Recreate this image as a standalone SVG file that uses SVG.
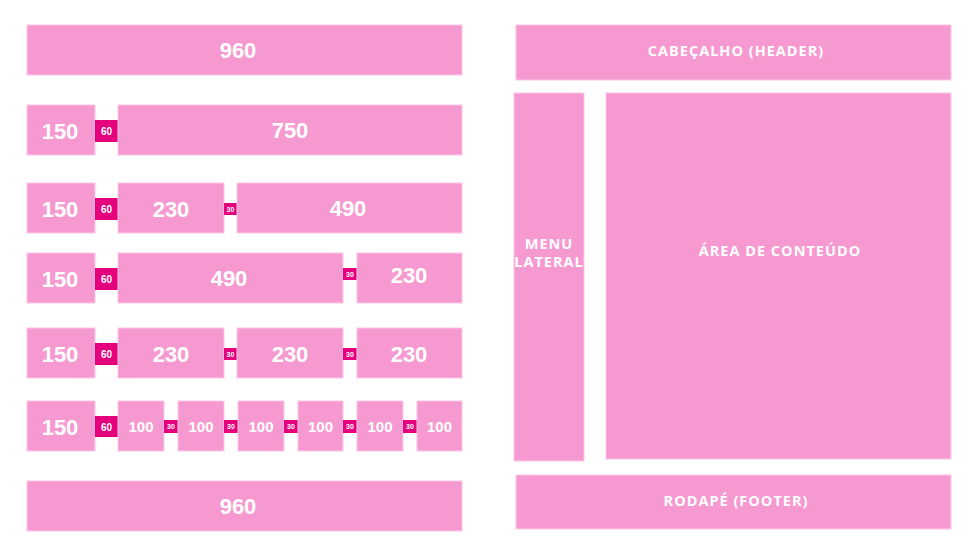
<svg xmlns="http://www.w3.org/2000/svg" width="977" height="559" viewBox="0 0 977 559">
<style>
.b{fill:#f799d1;stroke:#fbc6e4;stroke-width:1}
.g{fill:#e5007d}
.t{font-family:"Liberation Sans",Arial,sans-serif;font-weight:bold;fill:#fff;text-anchor:middle;dominant-baseline:central}
.L{font-size:22px}
.M{font-size:15px}
.s6{font-size:10px}
.s3{font-size:7px}
.o{font-family:"Open Sans","Noto Sans",sans-serif;font-weight:bold;font-size:14.5px;letter-spacing:1px;fill:#fff;text-anchor:middle;dominant-baseline:central}
</style>
<rect width="977" height="559" fill="#fff"/>
<g id="row1"><rect class="b" x="27" y="25" width="435" height="50"/><text class="t L" x="238" y="50">960</text></g>
<g id="row2">
<rect class="b" x="27" y="105" width="68" height="50"/><text class="t L" x="60" y="131">150</text>
<rect class="g" x="95" y="120" width="23" height="22"/><text class="t s6" x="106.5" y="131">60</text>
<rect class="b" x="118" y="105" width="344" height="50"/><text class="t L" x="290" y="130">750</text>
</g>
<g id="row3">
<rect class="b" x="27" y="183" width="68" height="50"/><text class="t L" x="60" y="209">150</text>
<rect class="g" x="95" y="198" width="23" height="22"/><text class="t s6" x="106.5" y="209">60</text>
<rect class="b" x="118" y="183" width="106" height="50"/><text class="t L" x="171" y="209">230</text>
<rect class="g" x="224" y="203" width="13" height="12"/><text class="t s3" x="230.5" y="209">30</text>
<rect class="b" x="237" y="183" width="225" height="50"/><text class="t L" x="348" y="208">490</text>
</g>
<g id="row4">
<rect class="b" x="27" y="253" width="68" height="50"/><text class="t L" x="60" y="279">150</text>
<rect class="g" x="95" y="268" width="23" height="22"/><text class="t s6" x="106.5" y="279">60</text>
<rect class="b" x="118" y="253" width="225" height="50"/><text class="t L" x="229" y="278">490</text>
<rect class="g" x="343" y="268" width="14" height="12"/><text class="t s3" x="350" y="274">30</text>
<rect class="b" x="357" y="253" width="105" height="50"/><text class="t L" x="409" y="275">230</text>
</g>
<g id="row5">
<rect class="b" x="27" y="328" width="68" height="50"/><text class="t L" x="60" y="354">150</text>
<rect class="g" x="95" y="343" width="23" height="22"/><text class="t s6" x="106.5" y="354">60</text>
<rect class="b" x="118" y="328" width="106" height="50"/><text class="t L" x="171" y="354">230</text>
<rect class="g" x="224" y="348" width="13" height="12"/><text class="t s3" x="230.5" y="354">30</text>
<rect class="b" x="237" y="328" width="106" height="50"/><text class="t L" x="290" y="354">230</text>
<rect class="g" x="343" y="348" width="14" height="12"/><text class="t s3" x="350" y="354">30</text>
<rect class="b" x="357" y="328" width="105" height="50"/><text class="t L" x="409" y="354">230</text>
</g>
<g id="row6">
<rect class="b" x="27" y="401" width="68" height="50"/><text class="t L" x="60" y="427">150</text>
<rect class="g" x="95" y="416" width="23" height="21"/><text class="t s6" x="106.5" y="427">60</text>
<rect class="b" x="118" y="401" width="46" height="50"/><text class="t M" x="141" y="426">100</text>
<rect class="g" x="164" y="420" width="14" height="13"/><text class="t s3" x="171" y="426.5">30</text>
<rect class="b" x="178" y="401" width="46" height="50"/><text class="t M" x="201" y="426">100</text>
<rect class="g" x="224" y="420" width="14" height="13"/><text class="t s3" x="231" y="426.5">30</text>
<rect class="b" x="238" y="401" width="46" height="50"/><text class="t M" x="261" y="426">100</text>
<rect class="g" x="284" y="420" width="14" height="13"/><text class="t s3" x="291" y="426.5">30</text>
<rect class="b" x="298" y="401" width="45" height="50"/><text class="t M" x="320.5" y="426">100</text>
<rect class="g" x="343" y="420" width="14" height="13"/><text class="t s3" x="350" y="426.5">30</text>
<rect class="b" x="357" y="401" width="46" height="50"/><text class="t M" x="380" y="426">100</text>
<rect class="g" x="403" y="420" width="14" height="13"/><text class="t s3" x="410" y="426.5">30</text>
<rect class="b" x="417" y="401" width="45" height="50"/><text class="t M" x="439.5" y="426">100</text>
</g>
<g id="row7"><rect class="b" x="27" y="481" width="435" height="50"/><text class="t L" x="238" y="506">960</text></g>
<g id="header"><rect class="b" x="516" y="25" width="435" height="55"/><text class="o" x="736" y="50">CABEÇALHO (HEADER)</text></g>
<g id="menu"><rect class="b" x="514" y="93" width="70" height="368"/><text class="o" x="549" y="243">MENU</text><text class="o" x="549" y="261" letter-spacing="0.3">LATERAL</text></g>
<g id="content"><rect class="b" x="606" y="93" width="345" height="366"/><text class="o" x="780" y="250">ÁREA DE CONTEÚDO</text></g>
<g id="footer"><rect class="b" x="516" y="475" width="435" height="54"/><text class="o" x="736" y="500">RODAPÉ (FOOTER)</text></g>
<g id="connectors"/>
</svg>
